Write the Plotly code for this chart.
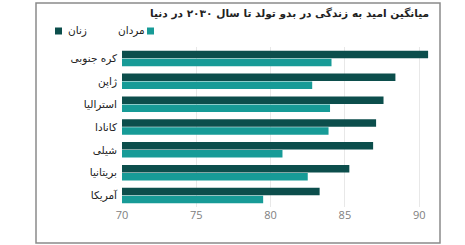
import plotly.graph_objects as go

countries = ["کره جنوبی", "ژاپن", "استرالیا", "کانادا", "شیلی", "بریتانیا", "آمریکا"]
women = [90.6, 88.4, 87.6, 87.1, 86.9, 85.3, 83.3]
men = [84.1, 82.8, 84.0, 83.9, 80.8, 82.5, 79.5]
x_ticks = [70, 75, 80, 85, 90]
title_text = "میانگین امید به زندگی در بدو تولد تا سال ۲۰۳۰ در دنیا"
women_name = "زنان"
men_name = "مردان"

DARK = "#0c4e4c"
TEAL = "#179b97"
FA_FONT = "DejaVu Sans"

W, H = 465, 245
L, R, T, B = 122, 32, 47, 38
pw, ph = W - L - R, H - T - B

def px(x):
    return (x - L) / pw

def py(y):
    return (H - B - y) / ph

fig = go.Figure()
fig.add_trace(go.Bar(y=countries, x=women, orientation="h", name=women_name,
                     marker=dict(color=DARK, line=dict(width=0)), base=0))
fig.add_trace(go.Bar(y=countries, x=men, orientation="h", name=men_name,
                     marker=dict(color=TEAL, line=dict(width=0)), base=0))

shapes = [
    dict(type="rect", xref="paper", yref="paper", x0=px(36), x1=px(440), y0=py(243), y1=py(3),
         line=dict(color="#8a8a8a", width=1.5), fillcolor="rgba(0,0,0,0)", layer="above"),
    # legend squares
    dict(type="rect", xref="paper", yref="paper", x0=px(55), x1=px(62), y0=py(34.5), y1=py(27.5),
         line=dict(width=0), fillcolor=DARK),
    dict(type="rect", xref="paper", yref="paper", x0=px(147), x1=px(154), y0=py(34.5), y1=py(27.5),
         line=dict(width=0), fillcolor=TEAL),
]

annotations = [
    dict(text="<b>" + title_text + "</b>", xref="paper", yref="paper", x=px(431), y=py(14),
         xanchor="right", yanchor="middle", showarrow=False,
         font=dict(family=FA_FONT, size=10.6, color="#222222")),
    dict(text=women_name, xref="paper", yref="paper", x=px(66), y=py(31), xanchor="left",
         yanchor="middle", showarrow=False, font=dict(family=FA_FONT, size=10.5, color="#222222")),
    dict(text=men_name, xref="paper", yref="paper", x=px(146.5), y=py(31), xanchor="right",
         yanchor="middle", showarrow=False, font=dict(family=FA_FONT, size=10.5, color="#222222")),
]

fig.update_layout(
    width=W, height=H,
    margin=dict(l=L, r=R, t=T, b=B, pad=0),
    paper_bgcolor="white", plot_bgcolor="white",
    barmode="group", bargap=0.3, bargroupgap=0.06,
    showlegend=False,
    shapes=shapes, annotations=annotations,
    xaxis=dict(range=[70, 90.93], tickvals=x_ticks, ticktext=[str(v) for v in x_ticks],
               showgrid=True, gridcolor="#e8e8e8", gridwidth=1, zeroline=False,
               showline=False, ticks="", tickfont=dict(family="Open Sans", size=11, color="#808080")),
    yaxis=dict(autorange="reversed", showgrid=False, zeroline=False, showline=False, ticks="",
               ticklabelstandoff=4,
               tickfont=dict(family=FA_FONT, size=10.5, color="#222222")),
)

fig.write_html("out.html")
